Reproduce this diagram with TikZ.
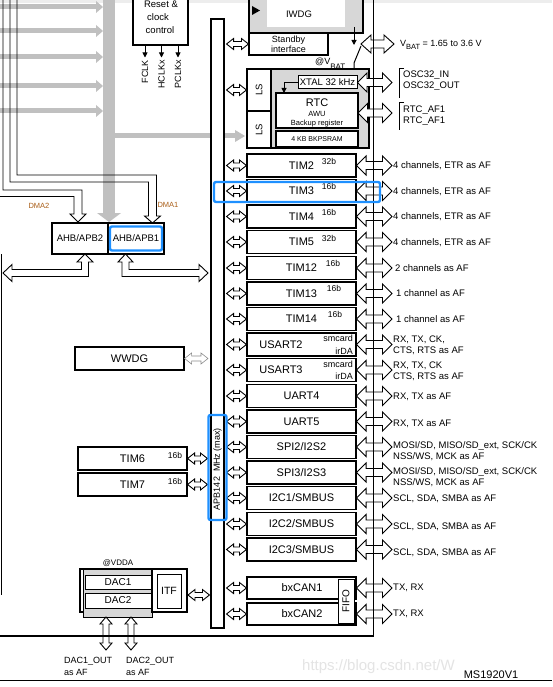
\documentclass[tikz,border=0pt]{standalone}
\usepackage{fontspec}
\setmainfont{Liberation Sans}
\usetikzlibrary{arrows.meta,calc}
\newcommand\fsz[1]{\fontsize{#1}{\dimexpr #1pt*6/5\relax}\selectfont}
\definecolor{hl}{RGB}{30,144,255}
\definecolor{gbar}{RGB}{192,192,192}
\definecolor{gfill}{RGB}{215,215,215}
\definecolor{dmacol}{RGB}{170,95,25}
\definecolor{wmark}{RGB}{228,228,228}
\tikzset{
  blk/.style={draw, line width=1.1pt},
  thinl/.style={draw, line width=0.9pt},
  pbox/.style={draw, line width=1.1pt, fill=white, minimum width=109pt, minimum height=23pt, inner sep=0pt, font=\fsz{11}},
  lbox/.style={draw, line width=1.1pt, fill=white, inner sep=0pt},
  supl/.style={inner sep=0pt, font=\fsz{8.5}},
  rlab/.style={anchor=west, inner sep=0pt, align=left, font=\fontsize{9.5}{11}\selectfont},
  txt/.style={inner sep=0pt},
  arrbox/.style={draw=black, fill=white, line width=0.9pt},
  garrbox/.style={draw=black!45, fill=white, line width=0.6pt},
  hlbox/.style={draw=hl, line width=2.4pt, rounded corners=2pt},
  tipd/.style={-{Triangle[length=5pt,width=5pt]}},
}
% horizontal hollow double arrow between two points (same y taken from first)
\newcommand\dArrN[6][arrbox]{\filldraw[#1] let \p1=#2, \p2=#3 in
  (\x1,\y1) -- ({\x1+#6pt},{\y1+#5pt}) -- ({\x1+#6pt},{\y1+#4pt}) -- ({\x2-#6pt},{\y1+#4pt}) -- ({\x2-#6pt},{\y1+#5pt}) -- (\x2,\y1)
  -- ({\x2-#6pt},{\y1-#5pt}) -- ({\x2-#6pt},{\y1-#4pt}) -- ({\x1+#6pt},{\y1-#4pt}) -- ({\x1+#6pt},{\y1-#5pt}) -- cycle;}
% vertical hollow double arrow: x, ytop, ybottom, shaft half, head half, head length
\newcommand\dArrV[6]{\filldraw[arrbox] (#1,#2) -- ({#1+#5},{#2+#6}) -- ({#1+#4},{#2+#6}) -- ({#1+#4},{#3-#6}) -- ({#1+#5},{#3-#6}) -- (#1,#3)
  -- ({#1-#5},{#3-#6}) -- ({#1-#4},{#3-#6}) -- ({#1-#4},{#2+#6}) -- ({#1-#5},{#2+#6}) -- cycle;}
\newcommand\linkL[1]{\dArrN{([xshift=2pt]bus.east |- #1.west)}{(#1.west)}{2.5}{5.5}{7}}
\newcommand\linkR[1]{\dArrN{(#1.east)}{(rx |- #1.east)}{4}{9.5}{9.5}}
\begin{document}
\begin{tikzpicture}[x=1pt,y=-1pt]
\useasboundingbox (0,0) rectangle (552,687);
\fill[white] (0,0) rectangle (552,687);
\fill[black!7] (0,0) rectangle (552,3);
\coordinate (rx) at (392,0);

% ---------- gray AHB arrows ----------
\foreach \yy in {7,31,57,86,111}{
  \fill[gbar] (-2,{\yy-2.5}) rectangle (97,{\yy+2.5});
  \fill[gbar] (96,{\yy-6}) -- (103,\yy) -- (96,{\yy+6}) -- cycle;
}
\fill[gbar] (103,-2) rectangle (115,213);
\fill[gbar] (97,213) -- (121,213) -- (109,222) -- cycle;
\fill[gbar] (115,133.5) rectangle (236,138.5);
\fill[gbar] (235,130) -- (245,136) -- (235,142) -- cycle;

% ---------- DMA hollow arrows ----------
\draw[thinl] (10,-2) -- (10,182) -- (148.5,182) -- (148.5,216) -- (144.5,216) -- (152.5,223) -- (160.5,216) -- (156.5,216) -- (156.5,175) -- (17,175) -- (17,-2);
\draw[thinl] (3,-2) -- (3,190) -- (82,190) -- (82,214) -- (86,214) -- (78,222) -- (70,214) -- (74,214) -- (74,196.5) -- (-2,196.5);
\node[txt, font=\fsz{7.5}, text=dmacol] (dma2) at (39,206) {DMA2};
\node[txt, font=\fsz{7.5}, text=dmacol] (dma1) at (168,205) {DMA1};

% ---------- AHB/APB bridges ----------
\node[lbox, minimum width=56pt, minimum height=31pt, font=\fsz{9.5}] (apb2) at (80,238.5) {AHB/APB2};
\node[lbox, minimum width=56pt, minimum height=31pt, font=\fsz{9.5}] (apb1) at (136,238.5) {AHB/APB1};
\draw[hlbox] (110,226.5) rectangle (162,250.5);
\filldraw[arrbox] (85,254) -- (93,262) -- (88.5,262) -- (88.5,276.5) -- (12,276.5) -- (12,281.5) -- (3,273) -- (12,264.5) -- (12,269.5) -- (81.5,269.5) -- (81.5,262) -- (77,262) -- cycle;
\filldraw[arrbox] (125.5,254) -- (133,262) -- (129,262) -- (129,269.5) -- (199,269.5) -- (199,264.5) -- (208,273) -- (199,281.5) -- (199,276.5) -- (122,276.5) -- (122,262) -- (118,262) -- cycle;
\draw[line width=1pt] (1,254) -- (1,595);

% ---------- Reset & clock control ----------
\node[lbox, minimum width=55pt, minimum height=52pt] (rcc) at (160.5,19) {};
\node[txt, font=\fsz{9.5}] at (161,4) {Reset \&};
\node[txt, font=\fsz{9.5}] at (158,17.5) {clock};
\node[txt, font=\fsz{9.5}] at (160,30) {control};
\foreach \xx/\lab in {145/FCLK,161.5/HCLKx,178/PCLKx}{
  \draw[line width=0.9pt, tipd] (\xx,45) -- (\xx,57.5);
  \node[txt, rotate=90, anchor=east, font=\fsz{9}] at (\xx,60) {\lab};
}

% ---------- IWDG / Standby ----------
\filldraw[blk, fill=gfill] (249,-5) rectangle (363,33);
\fill[white] (267,-5) rectangle (345,27);
\node[txt, font=\fsz{9.5}] (iwdg) at (299,14) {IWDG};
\fill (252,6) -- (260,10.5) -- (252,15) -- cycle;
\node[lbox, minimum width=79pt, minimum height=22pt, align=center, font=\fontsize{9}{10}\selectfont] (stb) at (288.5,44) {Standby\\interface};
\draw[line width=1pt, tipd] (354,27) -- (354,45);
\draw[line width=1pt] (361,46) -- (354,63) -- (354,69.5);
\node[txt, anchor=base west, font=\fsz{9}] (vb) at (315,65) {@V\raisebox{-4.5pt}{\fsz{8}BAT}};

% ---------- APB bus bar ----------
\node[lbox, minimum width=13pt, minimum height=609pt] (bus) at (217.5,323.5) {};
\node[txt, rotate=90, font=\fsz{9}] (apbtxt) at (217.5,469) {APB142\ \ MHz (max)};

% ---------- RTC domain ----------
\filldraw[blk, fill=gfill] (247,69) rectangle (369,148);
\node[lbox, minimum width=24pt, minimum height=42pt] (ls1) at (259,90) {};
\node[lbox, minimum width=24pt, minimum height=37pt] (ls2) at (259,129.5) {};
\node[txt, rotate=90, font=\fsz{9.5}] at (ls1) {LS};
\node[txt, rotate=90, font=\fsz{9.5}] at (ls2) {LS};
\node[lbox, line width=1pt, minimum width=59pt, minimum height=13pt, font=\fsz{9.5}] (xtal) at (327.5,82.5) {XTAL 32 kHz};
\node[lbox, minimum width=82pt, minimum height=35pt] (rtc) at (317,110.5) {};
\node[txt, font=\fsz{11}] at (317,103) {RTC};
\node[txt, font=\fsz{7.5}] at (317,114) {AWU};
\node[txt, font=\fsz{7.5}] at (317,124) {Backup register};
\node[lbox, minimum width=82pt, minimum height=16pt, font=\fsz{7}] (bkp) at (317,139) {4 KB BKPSRAM};
\draw[line width=0.9pt, tipd] (xtal.west) -- (284,82.5) -- (284,93);

\dArrN{([xshift=2pt]bus.east |- stb.west)}{(stb.west)}{2.5}{5.5}{7}
\dArrN{([xshift=2pt]bus.east |- ls1.west)}{(ls1.west)}{2.5}{5.5}{7}
\dArrN{(361,44)}{(394,44)}{4}{9}{10}
\node[txt, anchor=west, font=\fsz{9}] (vbat) at (400,45) {V\raisebox{-2.5pt}{\fsz{7.5}BAT} = 1.65 to 3.6 V};
\dArrN{(xtal.east)}{(rx |- xtal.east)}{4}{9.5}{9.5}
\dArrN{(358,113)}{(392,113)}{4}{9.5}{9.5}
\draw[line width=0.9pt] (404,68) -- (399,68) -- (399,98);
\draw[line width=0.9pt] (404,102) -- (399,102) -- (399,130);
\node[rlab] (osc) at (403,81) {OSC32\_IN\\OSC32\_OUT};
\node[rlab] (rtcaf) at (403,115.5) {RTC\_AF1\\RTC\_AF1};

% ---------- peripherals ----------
\node[pbox] (t2) at (301.5,165.5) {TIM2};
\node[pbox] (t3) at (301.5,191) {TIM3};
\node[pbox] (t4) at (301.5,216.5) {TIM4};
\node[pbox] (t5) at (301.5,242) {TIM5};
\node[pbox] (t12) at (301.5,268) {TIM12};
\node[pbox] (t13) at (301.5,293.5) {TIM13};
\node[pbox] (t14) at (301.5,319) {TIM14};
\node[pbox] (u2) at (301.5,344.5) {};
\node[pbox] (u3) at (301.5,370) {};
\node[pbox] (u4) at (301.5,396) {UART4};
\node[pbox] (u5) at (301.5,421.5) {UART5};
\node[pbox] (s2) at (301.5,447) {SPI2/I2S2};
\node[pbox] (s3) at (301.5,472.5) {SPI3/I2S3};
\node[pbox] (i1) at (301.5,498) {I2C1/SMBUS};
\node[pbox] (i2) at (301.5,524) {I2C2/SMBUS};
\node[pbox] (i3) at (301.5,549.5) {I2C3/SMBUS};
\node[pbox, minimum height=22pt] (c1) at (301.5,588) {};
\node[pbox, minimum height=22pt] (c2) at (301.5,614) {};
\node[txt, font=\fsz{11}] at (302,588) {bxCAN1};
\node[txt, font=\fsz{11}] at (302,614) {bxCAN2};
\node[lbox, line width=1pt, minimum width=16pt, minimum height=44pt] (fifo) at (346,601) {};
\node[txt, rotate=90, font=\fsz{10}] at (fifo) {FIFO};

\node[txt, font=\fsz{11}] at (281,344.5) {USART2};
\node[txt, font=\fsz{11}] at (281,370) {USART3};
\node[txt, anchor=east, font=\fsz{9}] at (353,338.5) {smcard};
\node[txt, anchor=east, font=\fsz{9}] at (353,351) {irDA};
\node[txt, anchor=east, font=\fsz{9}] at (353,364) {smcard};
\node[txt, anchor=east, font=\fsz{9}] at (353,376.5) {irDA};

\node[supl] at (329,161) {32b};
\node[supl] at (329,186.5) {16b};
\node[supl] at (329,212) {16b};
\node[supl] at (329,238) {32b};
\node[supl] at (333,263) {16b};
\node[supl] at (334,288.5) {16b};
\node[supl] at (335,314) {16b};

\linkL{t2}\linkR{t2}
\linkL{t3}\linkR{t3}
\linkL{t4}\linkR{t4}
\linkL{t5}\linkR{t5}
\linkL{t12}\linkR{t12}
\linkL{t13}\linkR{t13}
\linkL{t14}\linkR{t14}
\linkL{u2}\linkR{u2}
\linkL{u3}\linkR{u3}
\linkL{u4}\linkR{u4}
\linkL{u5}\linkR{u5}
\linkL{s2}\linkR{s2}
\linkL{s3}\linkR{s3}
\linkL{i1}\linkR{i1}
\linkL{i2}\linkR{i2}
\linkL{i3}\linkR{i3}
\linkL{c1}\linkR{c1}
\linkL{c2}\linkR{c2}

\node[rlab] at (393,166) {4 channels, ETR as AF};
\node[rlab] at (393,191.5) {4 channels, ETR as AF};
\node[rlab] at (393,217) {4 channels, ETR as AF};
\node[rlab] at (393,243) {4 channels, ETR as AF};
\node[rlab] at (395,268) {2 channels as AF};
\node[rlab] at (396,293.5) {1 channel as AF};
\node[rlab] at (396,319) {1 channel as AF};
\node[rlab] at (393,345.5) {RX, TX, CK,\\CTS, RTS as AF};
\node[rlab] at (393,371) {RX, TX, CK\\CTS, RTS as AF};
\node[rlab] at (393,397) {RX, TX as AF};
\node[rlab] at (393,424) {RX, TX as AF};
\node[rlab] at (393,451) {MOSI/SD, MISO/SD\_ext, SCK/CK\\NSS/WS, MCK as AF};
\node[rlab] at (393,477.5) {MOSI/SD, MISO/SD\_ext, SCK/CK\\NSS/WS, MCK as AF};
\node[rlab] at (393,499) {SCL, SDA, SMBA as AF};
\node[rlab] at (393,527) {SCL, SDA, SMBA as AF};
\node[rlab] at (393,552.5) {SCL, SDA, SMBA as AF};
\node[rlab] at (393,588) {TX, RX};
\node[rlab] at (393,614) {TX, RX};

% ---------- left APB1 peripherals ----------
\node[pbox] (wwdg) at (129.5,358.5) {WWDG};
\dArrN[garrbox]{(wwdg.east)}{(208,358.5)}{2.5}{5.5}{7}
\node[pbox] (t6) at (132.5,458.5) {TIM6};
\node[pbox] (t7) at (132.5,484.5) {TIM7};
\node[supl] at (175,455) {16b};
\node[supl] at (175,481) {16b};
\dArrN{(t6.east)}{([xshift=-3pt]bus.west |- t6.east)}{2.5}{5.5}{7}
\dArrN{(t7.east)}{([xshift=-3pt]bus.west |- t7.east)}{2.5}{5.5}{7}

% ---------- DAC ----------
\node[txt, font=\fsz{8}] (vdda) at (118,563) {@VDDA};
\draw[blk, fill=white] (80,569) rectangle (152,612);
\filldraw[line width=0.9pt, fill=gfill] (83,569) rectangle (152,617);
\node[lbox, line width=1pt, minimum width=66pt, minimum height=14pt, font=\fsz{10}] (dac1) at (118,582) {DAC1};
\node[lbox, line width=1pt, minimum width=66pt, minimum height=15pt, font=\fsz{10}] (dac2) at (118,600.5) {DAC2};
\draw[blk, fill=white] (152,569) rectangle (187,612);
\node[lbox, line width=1pt, minimum width=24pt, minimum height=34pt, font=\fsz{10.5}] (itf) at (169,591) {ITF};
\coordinate (itfa) at (188,595);
\dArrN{(itfa)}{([xshift=-1pt]bus.west |- itfa)}{2.5}{5.5}{7}
\dArrV{106}{617}{650}{3}{6}{7}
\dArrV{131}{617}{650}{3}{6}{7}
\node[txt, anchor=west, align=left, font=\fontsize{9}{12}\selectfont] (d1o) at (64,666) {DAC1\_OUT\\as AF};
\node[txt, anchor=west, align=left, font=\fontsize{9}{12}\selectfont] (d2o) at (126,666) {DAC2\_OUT\\as AF};

% ---------- domain borders ----------
\draw[line width=1.4pt] (373.5,-2) -- (373.5,636) -- (0,636);
\draw[line width=1pt] (0,680) -- (552,680);
\node[txt, anchor=west, font=\fsz{15}, text=wmark] (wm) at (302,667) {https://blog.csdn.net/W};
\node[txt, font=\fsz{11}] (ms) at (491,675) {MS1920V1};

% ---------- highlights ----------
\draw[hlbox] (214,182) rectangle (380,202);
\draw[hlbox] (208.5,415) rectangle (226.5,520);
\end{tikzpicture}
\end{document}
